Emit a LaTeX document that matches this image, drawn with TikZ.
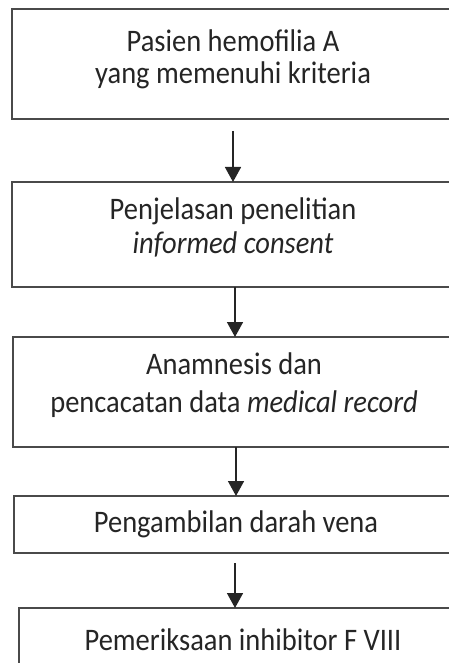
\documentclass[tikz,border=0pt]{standalone}
\usepackage{fontspec}
\usepackage{graphicx}
\setmainfont{Carlito}
\usetikzlibrary{arrows.meta}
\definecolor{ink}{HTML}{252525}
\definecolor{frame}{HTML}{4A4A4A}
% slightly tall lettering
\newcommand{\tallline}[1]{\scalebox{1}[1.1]{#1}}
\begin{document}
\begin{tikzpicture}[x=1pt,y=-1pt,
  stepbox/.style={draw=frame,line width=1.3pt},
  txt/.style={anchor=base,inner sep=0pt,text=ink,font=\fontsize{28.5}{33}\selectfont},
  flow/.style={draw=ink,line width=1.6pt,-{Triangle[width=16pt,length=15pt]}}]
\useasboundingbox (0,0) rectangle (449,663);
\clip (0,0) rectangle (449,663);
% process boxes
\draw[stepbox] (12,9) rectangle (454,119);
\coordinate (b1t) at (233,9); \coordinate (b1b) at (233,119);
\draw[stepbox] (12,182) rectangle (456,287);
\coordinate (b2t) at (233,182); \coordinate (b2b) at (235,287);
\draw[stepbox] (13,337) rectangle (458,447);
\coordinate (b3t) at (235,337); \coordinate (b3b) at (236,447);
\draw[stepbox] (14,496) rectangle (458,553);
\coordinate (b4t) at (236,496); \coordinate (b4b) at (235,553);
\draw[stepbox] (19,608) rectangle (460,668);
\coordinate (b5t) at (235,608);
% labels
\node[txt] (l1a) at (233,52) {\tallline{Pasien hemofilia A}};
\node[txt] (l1b) at (233,84) {\tallline{yang memenuhi kriteria}};
\node[txt] (l2a) at (233,219) {\tallline{Penjelasan penelitian}};
\node[txt] (l2b) at (233,253) {\tallline{\itshape informed consent}};
\node[txt] (l3a) at (234,374) {\tallline{Anamnesis dan}};
\node[txt] (l3b) at (234,412) {\tallline{pencacatan data \itshape medical record}};
\node[txt] (l4) at (236,532) {\tallline{Pengambilan darah vena}};
\node[txt] (l5) at (243,650) {\tallline{Pemeriksaan inhibitor F VIII}};
% connectors
\coordinate (a1) at (233,131);
\draw[flow] (a1) -- (b2t);
\draw[flow] (b2b) -- (b3t);
\draw[flow] (b3b) -- (b4t);
\coordinate (a4) at (235,563);
\draw[flow] (a4) -- (b5t);
\end{tikzpicture}
\end{document}
